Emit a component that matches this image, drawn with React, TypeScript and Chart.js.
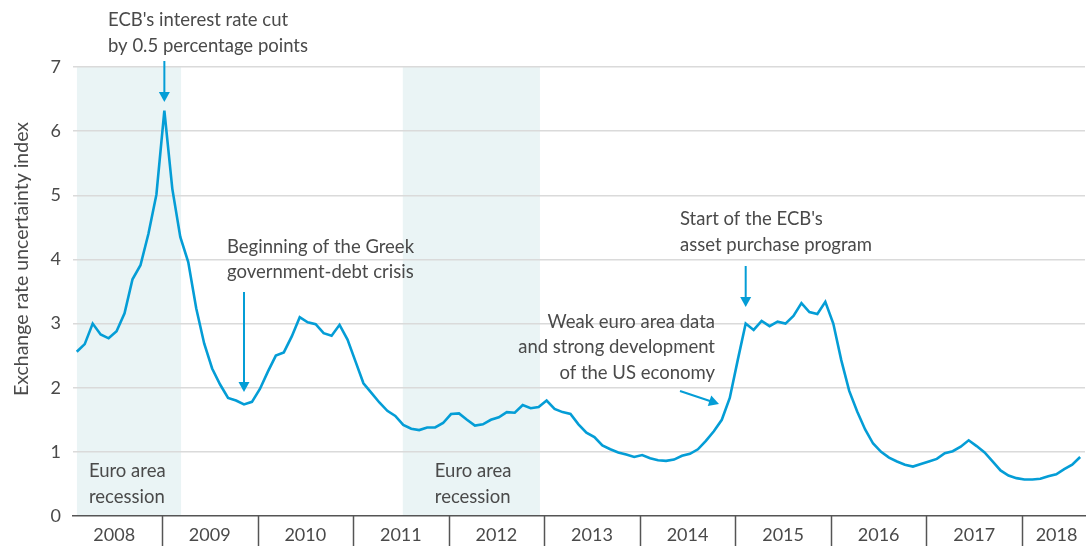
import React, { useEffect, useRef } from 'react';
import { Chart, registerables } from 'chart.js';

Chart.register(...registerables);

// ---- Data ----
const yearLabels = ['2008', '2009', '2010', '2011', '2012', '2013', '2014', '2015', '2016', '2017', '2018'];

// Monthly exchange rate uncertainty index, first observation early 2008
const uncertaintyIndex = [
  2.56, 2.68, 3.00, 2.83, 2.77, 2.88, 3.16, 3.69, 3.91, 4.40, 5.01, 6.32,
  5.10, 4.35, 3.96, 3.24, 2.69, 2.30, 2.05, 1.84, 1.80, 1.74, 1.78, 1.98,
  2.25, 2.50, 2.55, 2.80, 3.10, 3.02, 2.99, 2.85, 2.81, 2.98, 2.75, 2.41,
  2.07, 1.92, 1.77, 1.64, 1.56, 1.42, 1.36, 1.34, 1.38, 1.38, 1.45, 1.59,
  1.60, 1.50, 1.41, 1.43, 1.50, 1.54, 1.62, 1.61, 1.73, 1.68, 1.70, 1.80,
  1.67, 1.62, 1.59, 1.43, 1.30, 1.23, 1.10, 1.04, 0.99, 0.96, 0.92, 0.95,
  0.90, 0.87, 0.86, 0.88, 0.94, 0.97, 1.04, 1.17, 1.32, 1.50, 1.84, 2.43,
  3.00, 2.90, 3.04, 2.96, 3.03, 3.00, 3.12, 3.32, 3.18, 3.15, 3.34, 3.00,
  2.43, 1.95, 1.63, 1.35, 1.13, 1.00, 0.91, 0.85, 0.80, 0.77, 0.81, 0.85,
  0.89, 0.98, 1.01, 1.08, 1.18, 1.09, 0.99, 0.85, 0.71, 0.63, 0.59, 0.57,
  0.57, 0.58, 0.62, 0.65, 0.73, 0.80, 0.92,
];
const firstObsMonthOffset = 1.3; // months after 1 Jan 2008
const firstYear = 2008;

const recessionStarts = [2008.11, 2011.52];
const recessionEnds = [2009.2, 2012.955];

const yTickValues = [0, 1, 2, 3, 4, 5, 6, 7];

const axisMin = 2008.069;
const axisMax = 2018.659;

const BLUE = '#049dd6';
const TEXT = '#4a4a4a';
const FONT = 'Lato';

const timeOf = (i: number) => firstYear + (i + firstObsMonthOffset) / 12;

// indices of annotated observations
const idxRateCut = 11;
const idxGreek = 21;
const idxAPP = 84;

export default function App() {
  const ref = useRef<HTMLCanvasElement>(null);

  useEffect(() => {
    document.body.style.margin = '0';
    const canvas = ref.current!;

    const shadePlugin = {
      id: 'shade',
      beforeDraw(chart: any) {
        const { ctx, chartArea, scales } = chart;
        ctx.save();
        ctx.fillStyle = '#eaf4f5';
        recessionStarts.forEach((s, k) => {
          const x0 = scales.x.getPixelForValue(s);
          const x1 = scales.x.getPixelForValue(recessionEnds[k]);
          ctx.fillRect(x0, chartArea.top, x1 - x0, chartArea.bottom - chartArea.top);
        });
        ctx.restore();
      },
    };

    const arrow = (ctx: CanvasRenderingContext2D, x0: number, y0: number, x1: number, y1: number) => {
      const ang = Math.atan2(y1 - y0, x1 - x0);
      const head = 10;
      const half = 5.5;
      ctx.beginPath();
      ctx.moveTo(x0, y0);
      ctx.lineTo(x1 - Math.cos(ang) * head * 0.8, y1 - Math.sin(ang) * head * 0.8);
      ctx.stroke();
      ctx.beginPath();
      ctx.moveTo(x1, y1);
      ctx.lineTo(x1 - Math.cos(ang) * head - Math.sin(ang) * half, y1 - Math.sin(ang) * head + Math.cos(ang) * half);
      ctx.lineTo(x1 - Math.cos(ang) * head + Math.sin(ang) * half, y1 - Math.sin(ang) * head - Math.cos(ang) * half);
      ctx.closePath();
      ctx.fill();
    };

    const annotPlugin = {
      id: 'annot',
      afterDraw(chart: any) {
        const { ctx, chartArea, scales, height } = chart;
        const xs = scales.x;
        ctx.save();
        // year separators
        ctx.strokeStyle = '#555';
        ctx.lineWidth = 1.5;
        for (let k = 1; k < yearLabels.length; k++) {
          const px = Math.round(xs.getPixelForValue(firstYear + k)) + 0.5;
          ctx.beginPath();
          ctx.moveTo(px, chartArea.bottom);
          ctx.lineTo(px, height);
          ctx.stroke();
        }
        // year labels
        ctx.font = `18px ${FONT}`;
        ctx.fillStyle = TEXT;
        ctx.textAlign = 'center';
        ctx.textBaseline = 'alphabetic';
        yearLabels.forEach((lab, k) => {
          let cx: number;
          if (k === yearLabels.length - 1) {
            cx = (xs.getPixelForValue(firstYear + k) + chart.width) / 2;
          } else {
            cx = xs.getPixelForValue(firstYear + k + 0.5);
          }
          ctx.fillText(lab, cx, 541);
        });

        // y-axis title
        ctx.save();
        ctx.translate(28, 259);
        ctx.rotate(-Math.PI / 2);
        ctx.textAlign = 'center';
        ctx.font = `19.5px ${FONT}`;
        ctx.fillText('Exchange rate uncertainty index', 0, 0);
        ctx.restore();

        // annotation texts
        ctx.textAlign = 'left';
        ctx.font = `18.5px ${FONT}`;
        ctx.fillText("ECB's interest rate cut", 108, 26);
        ctx.fillText('by 0.5 percentage points', 108, 52);
        ctx.fillText('Beginning of the Greek', 227, 253);
        ctx.fillText('government-debt crisis', 227, 278);
        ctx.fillText("Start of the ECB's", 680, 225);
        ctx.fillText('asset purchase program', 680, 251);
        ctx.textAlign = 'right';
        ctx.fillText('Weak euro area data', 715, 328);
        ctx.fillText('and strong development', 715, 353);
        ctx.fillText('of the US economy', 715, 379);
        ctx.textAlign = 'left';
        const r0 = xs.getPixelForValue(recessionStarts[0]);
        const r1 = xs.getPixelForValue(recessionStarts[1]);
        ctx.fillText('Euro area', r0 + 12, 477);
        ctx.fillText('recession', r0 + 12, 503);
        ctx.fillText('Euro area', r1 + 32, 477);
        ctx.fillText('recession', r1 + 32, 503);

        // arrows
        ctx.strokeStyle = BLUE;
        ctx.fillStyle = BLUE;
        ctx.lineWidth = 2;
        const aX1 = xs.getPixelForValue(timeOf(idxRateCut));
        arrow(ctx, aX1, 61, aX1, 102);
        const aX2 = xs.getPixelForValue(timeOf(idxGreek));
        arrow(ctx, aX2, 292, aX2, 392);
        const aX3 = xs.getPixelForValue(timeOf(idxAPP));
        arrow(ctx, aX3, 266, aX3, 307);
        arrow(ctx, 680, 391, 719, 404);
        ctx.restore();
      },
    };

    const chart = new Chart(canvas, {
      type: 'line',
      data: {
        datasets: [
          {
            data: uncertaintyIndex.map((v, i) => ({ x: timeOf(i), y: v })),
            borderColor: BLUE,
            borderWidth: 2.6,
            pointRadius: 0,
            tension: 0,
            fill: false,
            borderJoinStyle: 'miter',
          },
        ],
      },
      options: {
        animation: false,
        responsive: false,
        maintainAspectRatio: false,
        layout: { padding: { top: 67, right: 6, left: 0, bottom: 0 } },
        plugins: { legend: { display: false }, tooltip: { enabled: false } },
        scales: {
          x: {
            type: 'linear',
            min: axisMin,
            max: axisMax,
            ticks: { display: false },
            grid: { display: false, drawTicks: false },
            border: { display: true, color: '#555', width: 1.5 },
            afterFit: (s: any) => {
              s.height = 30;
            },
          },
          y: {
            min: 0,
            max: 7,
            afterBuildTicks: (s: any) => {
              s.ticks = yTickValues.map((v) => ({ value: v }));
            },
            ticks: { padding: 12, font: { family: FONT, size: 18 }, color: TEXT },
            grid: {
              color: (c: any) => (c.tick && c.tick.value === 0 ? 'rgba(0,0,0,0)' : '#dadada'),
              lineWidth: 1.5,
              drawTicks: false,
            },
            border: { display: false },
            afterFit: (s: any) => {
              s.width = 73;
            },
          },
        },
      },
      plugins: [shadePlugin, annotPlugin],
    } as any);

    return () => chart.destroy();
  }, []);

  return (
    <div style={{ width: 1091, height: 546 }}>
      <canvas ref={ref} width={1091} height={546} style={{ display: 'block' }} />
    </div>
  );
}
